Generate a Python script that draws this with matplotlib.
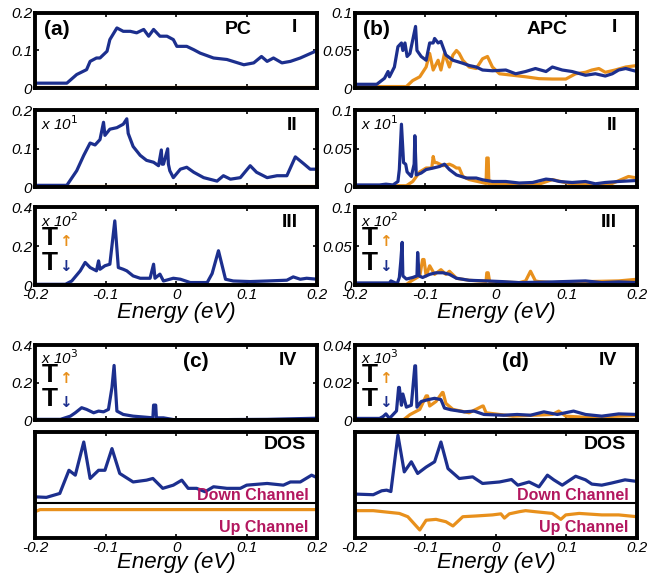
import matplotlib.pyplot as plt
import numpy as np

BLUE = "#1c2f8e"
ORANGE = "#e8901c"
MAG = "#b3175f"

# ---- panel (a) I, PC ----
a1_x = [-0.2, -0.155, -0.141, -0.127, -0.122, -0.113, -0.108, -0.098, -0.094, -0.084, -0.075, -0.065,
        -0.056, -0.046, -0.039, -0.032, -0.023, -0.013, -0.004, 0.001, 0.015, 0.025, 0.034, 0.053,
        0.072, 0.096, 0.110, 0.121, 0.129, 0.138, 0.150, 0.162, 0.176, 0.2]
a1_dn = [0.013, 0.013, 0.036, 0.049, 0.071, 0.080, 0.080, 0.098, 0.129, 0.160, 0.151, 0.151,
         0.147, 0.156, 0.138, 0.156, 0.138, 0.138, 0.129, 0.111, 0.111, 0.102, 0.093, 0.080,
         0.076, 0.062, 0.067, 0.084, 0.071, 0.080, 0.067, 0.071, 0.080, 0.10]
a1_up_x = [-0.2, 0.2]
a1_up = [0.003, 0.003]

# ---- panel (a) II ----
a2_x = [-0.2, -0.155, -0.141, -0.131, -0.122, -0.115, -0.108, -0.103, -0.101, -0.094, -0.084, -0.075,
        -0.070, -0.068, -0.061, -0.051, -0.042, -0.032, -0.025, -0.021, -0.020, -0.018, -0.012, -0.011,
        -0.009, -0.004, 0.006, 0.015, 0.025, 0.039, 0.058, 0.067, 0.077, 0.091, 0.105, 0.114, 0.129,
        0.143, 0.157, 0.169, 0.181, 0.190, 0.2]
a2_dn = [0.005, 0.005, 0.043, 0.083, 0.115, 0.110, 0.124, 0.169, 0.135, 0.151, 0.155, 0.164,
         0.178, 0.140, 0.106, 0.083, 0.070, 0.065, 0.056, 0.097, 0.060, 0.060, 0.100, 0.060,
         0.043, 0.025, 0.047, 0.052, 0.039, 0.025, 0.016, 0.030, 0.021, 0.025, 0.056, 0.039, 0.025,
         0.030, 0.030, 0.079, 0.061, 0.047, 0.047]
a2_up_x = [-0.2, 0.2]
a2_up = [0.003, 0.003]

# ---- panel (a) III ----
a3_x = [-0.2, -0.157, -0.148, -0.136, -0.129, -0.122, -0.113, -0.110, -0.108, -0.101, -0.094, -0.087,
        -0.082, -0.075, -0.070, -0.061, -0.051, -0.037, -0.032, -0.030, -0.023, -0.018, -0.004, 0.006,
        0.020, 0.044, 0.051, 0.060, 0.070, 0.081, 0.105, 0.129, 0.157, 0.166, 0.176, 0.185, 0.2]
a3_dn = [0.005, 0.005, 0.022, 0.074, 0.117, 0.091, 0.074, 0.125, 0.082, 0.100, 0.108, 0.330,
         0.091, 0.082, 0.074, 0.048, 0.036, 0.036, 0.108, 0.036, 0.057, 0.022, 0.036, 0.031,
         0.014, 0.014, 0.060, 0.177, 0.031, 0.022, 0.019, 0.022, 0.026, 0.043, 0.031, 0.036, 0.031]
a3_up_x = [-0.2, 0.2]
a3_up = [0.003, 0.003]

# ---- panel (c) IV ----
c4_x = [-0.2, -0.164, -0.150, -0.143, -0.134, -0.127, -0.117, -0.110, -0.103, -0.096, -0.091, -0.088,
        -0.084, -0.075, -0.061, -0.042, -0.033, -0.032, -0.029, -0.028, -0.018, -0.004, 0.034, 0.081,
        0.129, 0.176, 0.2]
c4_dn = [0.005, 0.005, 0.022, 0.040, 0.067, 0.058, 0.040, 0.049, 0.045, 0.058, 0.175, 0.292,
         0.049, 0.031, 0.022, 0.016, 0.013, 0.081, 0.081, 0.013, 0.013, 0.004, 0.002, 0.004,
         0.005, 0.009, 0.011]
c4_up_x = [-0.2, 0.2]
c4_up = [0.003, 0.003]

# ---- panel (b) I, APC ----
b1_x = [-0.2, -0.169, -0.158, -0.153, -0.151, -0.144, -0.139, -0.134, -0.132, -0.129, -0.126, -0.122,
        -0.118, -0.114, -0.112, -0.106, -0.099, -0.094, -0.089, -0.087, -0.082, -0.078, -0.071, -0.061,
        -0.047, -0.038, -0.028, -0.019, -0.005, 0.014, 0.028, 0.042, 0.056, 0.071, 0.080, 0.094,
        0.108, 0.127, 0.141, 0.155, 0.165, 0.174, 0.184, 0.2]
b1_dn = [0.005, 0.005, 0.013, 0.022, 0.015, 0.028, 0.055, 0.060, 0.050, 0.060, 0.042, 0.046,
         0.064, 0.082, 0.050, 0.042, 0.037, 0.060, 0.060, 0.066, 0.060, 0.062, 0.044, 0.037,
         0.033, 0.030, 0.028, 0.024, 0.023, 0.024, 0.019, 0.022, 0.026, 0.022, 0.028, 0.024,
         0.022, 0.017, 0.019, 0.016, 0.019, 0.024, 0.026, 0.022]
b1_up_x = [-0.2, -0.127, -0.118, -0.108, -0.099, -0.094, -0.089, -0.082, -0.078, -0.073, -0.066, -0.061,
           -0.056, -0.052, -0.047, -0.038, -0.028, -0.019, -0.012, -0.005, 0.005, 0.024, 0.042, 0.061,
           0.080, 0.099, 0.113, 0.127, 0.136, 0.146, 0.155, 0.169, 0.184, 0.2]
b1_up = [0.002, 0.002, 0.010, 0.015, 0.028, 0.046, 0.024, 0.037, 0.024, 0.046, 0.028, 0.044,
         0.050, 0.046, 0.037, 0.028, 0.026, 0.039, 0.042, 0.028, 0.019, 0.017, 0.015, 0.0125,
         0.012, 0.012, 0.019, 0.021, 0.024, 0.026, 0.021, 0.024, 0.028, 0.030]

# ---- panel (b) II ----
b2_x = [-0.2, -0.165, -0.156, -0.146, -0.139, -0.137, -0.134, -0.131, -0.128, -0.126, -0.120, -0.116,
        -0.115, -0.113, -0.106, -0.099, -0.089, -0.080, -0.073, -0.066, -0.056, -0.042, -0.028, -0.019,
        -0.005, 0.014, 0.033, 0.052, 0.071, 0.080, 0.090, 0.108, 0.127, 0.141, 0.155, 0.174, 0.2]
b2_dn = [0.003, 0.003, 0.004, 0.003, 0.0075, 0.023, 0.082, 0.032, 0.030, 0.020, 0.014, 0.030,
         0.067, 0.016, 0.0185, 0.023, 0.025, 0.027, 0.030, 0.023, 0.016, 0.012, 0.012, 0.0097,
         0.0075, 0.0075, 0.0055, 0.0062, 0.0106, 0.0097, 0.0075, 0.0062, 0.0075, 0.0045, 0.0062,
         0.0075, 0.0088]
b2_up_x = [-0.2, -0.127, -0.118, -0.108, -0.099, -0.091, -0.089, -0.087, -0.084, -0.075, -0.066,
           -0.061, -0.056, -0.052, -0.047, -0.038, -0.014, -0.013, -0.011, -0.010, 0.024, 0.061,
           0.080, 0.108, 0.141, 0.165, 0.188, 0.2]
b2_up = [0.002, 0.002, 0.0075, 0.020, 0.025, 0.025, 0.040, 0.032, 0.032, 0.028, 0.030, 0.028,
         0.025, 0.025, 0.014, 0.010, 0.005, 0.038, 0.038, 0.004, 0.004, 0.004, 0.010, 0.004,
         0.003, 0.005, 0.014, 0.012]

# ---- panel (b) III ----
b3_x = [-0.2, -0.151, -0.149, -0.140, -0.137, -0.135, -0.133, -0.132, -0.127, -0.118, -0.112, -0.111,
        -0.109, -0.104, -0.094, -0.085, -0.075, -0.066, -0.056, -0.038, -0.014, 0.009, 0.033, 0.080,
        0.127, 0.150, 0.174, 0.2]
b3_dn = [0.003, 0.003, 0.0056, 0.002, 0.010, 0.030, 0.055, 0.012, 0.008, 0.010, 0.012, 0.042,
         0.012, 0.010, 0.014, 0.016, 0.016, 0.014, 0.009, 0.0064, 0.0056, 0.0047, 0.0034, 0.0043,
         0.0056, 0.0034, 0.0043, 0.0034]
b3_up_x = [-0.2, -0.127, -0.120, -0.108, -0.104, -0.102, -0.099, -0.094, -0.087, -0.078, -0.071, -0.066,
           -0.056, -0.038, -0.014, -0.013, -0.011, -0.009, 0.033, 0.042, 0.049, 0.056, 0.061, 0.080,
           0.127, 0.174, 0.2]
b3_up = [0.001, 0.001, 0.0056, 0.012, 0.033, 0.033, 0.012, 0.025, 0.014, 0.020, 0.014, 0.018,
         0.009, 0.0064, 0.0050, 0.016, 0.016, 0.0047, 0.0034, 0.0055, 0.018, 0.0055, 0.0047, 0.0034,
         0.0047, 0.0056, 0.0077]

# ---- panel (d) IV ----
d4_x = [-0.2, -0.165, -0.160, -0.156, -0.151, -0.141, -0.138, -0.137, -0.134, -0.132, -0.127, -0.120,
        -0.115, -0.114, -0.112, -0.106, -0.096, -0.087, -0.078, -0.073, -0.064, -0.045, -0.031, -0.017,
        0.011, 0.030, 0.049, 0.068, 0.087, 0.110, 0.127, 0.150, 0.174, 0.2]
d4_dn = [0.001, 0.001, 0.002, 0.0034, 0.001, 0.005, 0.0175, 0.0175, 0.008, 0.014, 0.007, 0.008,
         0.029, 0.029, 0.007, 0.010, 0.011, 0.0117, 0.011, 0.0065, 0.0056, 0.0045, 0.0049, 0.0031,
         0.0027, 0.0031, 0.0027, 0.0045, 0.0031, 0.0049, 0.0031, 0.0022, 0.0034, 0.0031]
d4_up_x = [-0.2, -0.132, -0.122, -0.108, -0.099, -0.097, -0.094, -0.085, -0.076, -0.075, -0.071,
           -0.061, -0.038, -0.019, -0.018, -0.014, 0.024, 0.080, 0.089, 0.099, 0.127, 0.174, 0.2]
d4_up = [0.0, 0.0, 0.003, 0.0058, 0.013, 0.013, 0.0076, 0.010, 0.0148, 0.0148, 0.009, 0.0058,
         0.0040, 0.0076, 0.0076, 0.0040, 0.0022, 0.0031, 0.0049, 0.0022, 0.0016, 0.0022, 0.0025]

# ---- DOS (c) ----
dos_c_x = [-0.2, -0.184, -0.165, -0.152, -0.143, -0.131, -0.122, -0.110, -0.101, -0.091, -0.080,
           -0.061, -0.042, -0.033, -0.019, -0.004, 0.008, 0.017, 0.029, 0.041, 0.053, 0.072, 0.091,
           0.100, 0.129, 0.152, 0.162, 0.176, 0.192, 0.2]
dos_c_dn = [0.39, 0.385, 0.422, 0.64, 0.594, 0.906, 0.563, 0.64, 0.64, 0.844, 0.61, 0.53, 0.547,
            0.563, 0.47, 0.50, 0.547, 0.47, 0.47, 0.438, 0.485, 0.47, 0.47, 0.50, 0.516, 0.50,
            0.53, 0.53, 0.594, 0.57]
dos_c_up_x = [-0.2, -0.193, 0.2]
dos_c_up = [0.25, 0.27, 0.27]

# ---- DOS (d) ----
dos_d_x = [-0.2, -0.174, -0.162, -0.155, -0.149, -0.139, -0.130, -0.120, -0.111, -0.099, -0.087,
           -0.078, -0.068, -0.052, -0.033, -0.019, 0.005, 0.022, 0.031, 0.047, 0.061, 0.073, 0.082,
           0.094, 0.113, 0.127, 0.136, 0.150, 0.164, 0.183, 0.2]
dos_d_dn = [0.416, 0.41, 0.447, 0.453, 0.44, 0.97, 0.625, 0.72, 0.61, 0.67, 0.72, 0.906, 0.656,
            0.5625, 0.578, 0.516, 0.53, 0.553, 0.50, 0.53, 0.484, 0.594, 0.55, 0.50, 0.584, 0.55,
            0.51, 0.50, 0.52, 0.55, 0.535]
dos_d_up_x = [-0.2, -0.174, -0.137, -0.125, -0.108, -0.099, -0.085, -0.071, -0.061, -0.047, -0.028,
              -0.005, 0.007, 0.012, 0.019, 0.033, 0.042, 0.056, 0.080, 0.092, 0.099, 0.118, 0.150,
              0.174, 0.2]
dos_d_up = [0.26, 0.26, 0.234, 0.203, 0.078, 0.17, 0.178, 0.156, 0.116, 0.203, 0.21, 0.22, 0.23,
            0.19, 0.23, 0.25, 0.26, 0.25, 0.234, 0.178, 0.22, 0.234, 0.22, 0.22, 0.203]
dos_split = 0.328

xticks = [-0.2, -0.1, 0, 0.1, 0.2]
xticklabels = ["-0.2", "-0.1", "0", "0.1", "0.2"]

fig = plt.figure(figsize=(6.5, 5.87), dpi=100)
plt.rcParams['font.family'] = ['Liberation Sans', 'DejaVu Sans']

lx, rx, w = 0.054, 0.546, 0.434
rows = [(0.850, 0.128), (0.681, 0.131), (0.514, 0.133), (0.284, 0.128), (0.083, 0.181)]


def style(ax, ymax, yticks, ylabels, show_x):
    ax.set_xlim(-0.2, 0.2)
    ax.set_ylim(0, ymax)
    ax.set_xticks(xticks)
    ax.set_yticks(yticks)
    if show_x:
        ax.set_xticklabels(xticklabels, fontsize=11, style='italic')
    else:
        ax.set_xticklabels([])
    ax.set_yticklabels(ylabels, fontsize=11, style='italic')
    ax.tick_params(direction='in', top=True, right=True, length=3, width=1.2, pad=2)
    for s in ax.spines.values():
        s.set_linewidth(2.8)


def tlegend(ax):
    ax.text(0.025, 0.60, "T", transform=ax.transAxes, fontsize=19, fontweight='bold', va='center')
    ax.text(0.085, 0.56, "\u2191", transform=ax.transAxes, fontsize=11, fontweight='bold',
            color=ORANGE, va='center', family='DejaVu Sans')
    ax.text(0.025, 0.28, "T", transform=ax.transAxes, fontsize=19, fontweight='bold', va='center')
    ax.text(0.085, 0.24, "\u2193", transform=ax.transAxes, fontsize=11, fontweight='bold',
            color=BLUE, va='center', family='DejaVu Sans')


lw = 2.3
left = [
    (a1_up_x, a1_up, a1_x, a1_dn, 0.2, [0, 0.1, 0.2], ["0", "0.1", "0.2"]),
    (a2_up_x, a2_up, a2_x, a2_dn, 0.2, [0, 0.1, 0.2], ["0", "0.1", "0.2"]),
    (a3_up_x, a3_up, a3_x, a3_dn, 0.4, [0, 0.2, 0.4], ["0", "0.2", "0.4"]),
    (c4_up_x, c4_up, c4_x, c4_dn, 0.4, [0, 0.2, 0.4], ["0", "0.2", "0.4"]),
]
right = [
    (b1_up_x, b1_up, b1_x, b1_dn, 0.1, [0, 0.05, 0.1], ["0", "0.05", "0.1"]),
    (b2_up_x, b2_up, b2_x, b2_dn, 0.1, [0, 0.05, 0.1], ["0", "0.05", "0.1"]),
    (b3_up_x, b3_up, b3_x, b3_dn, 0.1, [0, 0.05, 0.1], ["0", "0.05", "0.1"]),
    (d4_up_x, d4_up, d4_x, d4_dn, 0.04, [0, 0.02, 0.04], ["0", "0.02", "0.04"]),
]
roman = ["I", "II", "III", "IV"]
scale = [None, "x 10$^{1}$", "x 10$^{2}$", "x 10$^{3}$"]

for col, (x0, panels) in enumerate([(lx, left), (rx, right)]):
    for i, (ux, uy, dx, dy, ymax, yt, yl) in enumerate(panels):
        b, h = rows[i]
        ax = fig.add_axes([x0, b, w, h])
        ax.plot(ux, uy, color=ORANGE, lw=lw)
        ax.plot(dx, dy, color=BLUE, lw=lw)
        style(ax, ymax, yt, yl, i == 2)
        ax.text(0.93, 0.80, roman[i], transform=ax.transAxes, fontsize=14, fontweight='bold',
                ha='right', va='center')
        if scale[i]:
            ax.text(0.02, 0.83, scale[i], transform=ax.transAxes, fontsize=11, style='italic',
                    va='center')
        if i >= 2:
            tlegend(ax)
        if i == 0:
            ax.text(0.03, 0.78, "(a)" if col == 0 else "(b)", transform=ax.transAxes,
                    fontsize=15, fontweight='bold', va='center')
            ax.text(0.72 if col == 0 else 0.68, 0.78, "PC" if col == 0 else "APC",
                    transform=ax.transAxes, fontsize=14, fontweight='bold', va='center', ha='center')
        if i == 2:
            ax.set_xlabel("Energy (eV)", fontsize=16, style='italic', labelpad=0)
        if i == 3:
            ax.text(0.57, 0.78, "(c)" if col == 0 else "(d)", transform=ax.transAxes,
                    fontsize=15, fontweight='bold', va='center', ha='center')

    # DOS panels
    b, h = rows[4]
    ax = fig.add_axes([x0, b, w, h])
    if col == 0:
        ax.plot(dos_c_up_x, dos_c_up, color=ORANGE, lw=lw)
        ax.plot(dos_c_x, dos_c_dn, color=BLUE, lw=lw)
    else:
        ax.plot(dos_d_up_x, dos_d_up, color=ORANGE, lw=lw)
        ax.plot(dos_d_x, dos_d_dn, color=BLUE, lw=lw)
    ax.axhline(dos_split, color='black', lw=1.5)
    style(ax, 1.0, [0.5, 1.0], ["", ""], True)
    ax.tick_params(left=False, right=False)
    ax.text(0.96, 0.88, "DOS", transform=ax.transAxes, fontsize=14, fontweight='bold',
            ha='right', va='center')
    ax.text(0.97, 0.40, "Down Channel", transform=ax.transAxes, fontsize=11.5, fontweight='bold',
            color=MAG, ha='right', va='center')
    ax.text(0.97, 0.10, "Up Channel", transform=ax.transAxes, fontsize=11.5, fontweight='bold',
            color=MAG, ha='right', va='center')
    ax.set_xlabel("Energy (eV)", fontsize=16, style='italic', labelpad=-2)

fig.savefig("out.png", dpi=100)
